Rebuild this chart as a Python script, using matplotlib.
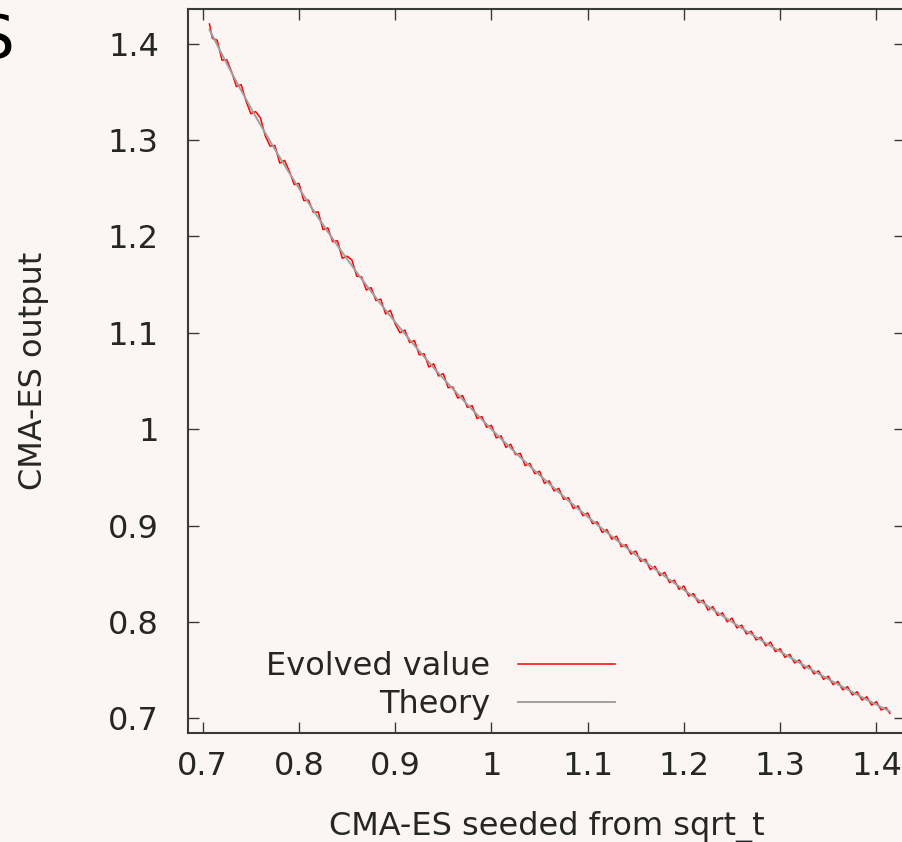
import matplotlib
matplotlib.use("Agg")
import matplotlib.pyplot as plt
from matplotlib.lines import Line2D

#========================= data =======================

# 横轴: CMA-ES seeded from sqrt_t
X_VALUES = [
    0.707, 0.710, 0.715, 0.720, 0.725, 0.730, 0.735, 0.740, 0.745, 0.750,
    0.755, 0.760, 0.765, 0.770, 0.775, 0.780, 0.785, 0.790, 0.795, 0.800,
    0.805, 0.810, 0.815, 0.820, 0.825, 0.830, 0.835, 0.840, 0.845, 0.850,
    0.855, 0.860, 0.865, 0.870, 0.875, 0.880, 0.885, 0.890, 0.895, 0.900,
    0.905, 0.910, 0.915, 0.920, 0.925, 0.930, 0.935, 0.940, 0.945, 0.950,
    0.955, 0.960, 0.965, 0.970, 0.975, 0.980, 0.985, 0.990, 0.995, 1.000,
    1.005, 1.010, 1.015, 1.020, 1.025, 1.030, 1.035, 1.040, 1.045, 1.050,
    1.055, 1.060, 1.065, 1.070, 1.075, 1.080, 1.085, 1.090, 1.095, 1.100,
    1.105, 1.110, 1.115, 1.120, 1.125, 1.130, 1.135, 1.140, 1.145, 1.150,
    1.155, 1.160, 1.165, 1.170, 1.175, 1.180, 1.185, 1.190, 1.195, 1.200,
    1.205, 1.210, 1.215, 1.220, 1.225, 1.230, 1.235, 1.240, 1.245, 1.250,
    1.255, 1.260, 1.265, 1.270, 1.275, 1.280, 1.285, 1.290, 1.295, 1.300,
    1.305, 1.310, 1.315, 1.320, 1.325, 1.330, 1.335, 1.340, 1.345, 1.350,
    1.355, 1.360, 1.365, 1.370, 1.375, 1.380, 1.385, 1.390, 1.395, 1.400,
    1.405, 1.410, 1.414,
]

# 演化结果 (带噪声)
EVOLVED_VALUES = [
    1.4204, 1.4055, 1.4036, 1.3829, 1.3833, 1.3709, 1.3555, 1.3574, 1.3403, 1.3273,
    1.3295, 1.3228, 1.3042, 1.2937, 1.2943, 1.2761, 1.2789, 1.2678, 1.2539, 1.2550,
    1.2372, 1.2376, 1.2250, 1.2255, 1.2071, 1.2088, 1.1946, 1.1955, 1.1774, 1.1795,
    1.1756, 1.1588, 1.1581, 1.1444, 1.1469, 1.1334, 1.1349, 1.1196, 1.1233, 1.1091,
    1.1000, 1.1029, 1.0899, 1.0920, 1.0771, 1.0783, 1.0645, 1.0678, 1.0552, 1.0576,
    1.0431, 1.0437, 1.0323, 1.0349, 1.0226, 1.0244, 1.0112, 1.0131, 1.0020, 1.0040,
    0.9910, 0.9931, 0.9812, 0.9844, 0.9736, 0.9749, 0.9622, 0.9645, 0.9539, 0.9564,
    0.9439, 0.9464, 0.9360, 0.9386, 0.9272, 0.9289, 0.9177, 0.9204, 0.9102, 0.9131,
    0.9020, 0.9039, 0.8929, 0.8959, 0.8859, 0.8890, 0.8781, 0.8802, 0.8704, 0.8736,
    0.8628, 0.8651, 0.8544, 0.8577, 0.8481, 0.8515, 0.8409, 0.8433, 0.8338, 0.8373,
    0.8269, 0.8294, 0.8200, 0.8227, 0.8123, 0.8160, 0.8067, 0.8095, 0.8002, 0.8040,
    0.7938, 0.7967, 0.7875, 0.7904, 0.7813, 0.7843, 0.7752, 0.7792, 0.7692, 0.7722,
    0.7633, 0.7664, 0.7575, 0.7606, 0.7517, 0.7549, 0.7461, 0.7493, 0.7405, 0.7437,
    0.7350, 0.7383, 0.7296, 0.7329, 0.7243, 0.7276, 0.7190, 0.7224, 0.7138, 0.7173,
    0.7087, 0.7112, 0.7052,
]

# 理论曲线
THEORY_VALUES = [
    1.4144, 1.4085, 1.3986, 1.3889, 1.3793, 1.3699, 1.3605, 1.3514, 1.3423, 1.3333,
    1.3245, 1.3158, 1.3072, 1.2987, 1.2903, 1.2821, 1.2739, 1.2658, 1.2579, 1.2500,
    1.2422, 1.2346, 1.2270, 1.2195, 1.2121, 1.2048, 1.1976, 1.1905, 1.1834, 1.1765,
    1.1696, 1.1628, 1.1561, 1.1494, 1.1429, 1.1364, 1.1299, 1.1236, 1.1173, 1.1111,
    1.1050, 1.0989, 1.0929, 1.0870, 1.0811, 1.0753, 1.0695, 1.0638, 1.0582, 1.0526,
    1.0471, 1.0417, 1.0363, 1.0309, 1.0256, 1.0204, 1.0152, 1.0101, 1.0050, 1.0000,
    0.9950, 0.9901, 0.9852, 0.9804, 0.9756, 0.9709, 0.9662, 0.9615, 0.9569, 0.9524,
    0.9479, 0.9434, 0.9390, 0.9346, 0.9302, 0.9259, 0.9217, 0.9174, 0.9132, 0.9091,
    0.9050, 0.9009, 0.8969, 0.8929, 0.8889, 0.8850, 0.8811, 0.8772, 0.8734, 0.8696,
    0.8658, 0.8621, 0.8584, 0.8547, 0.8511, 0.8475, 0.8439, 0.8403, 0.8368, 0.8333,
    0.8299, 0.8264, 0.8230, 0.8197, 0.8163, 0.8130, 0.8097, 0.8065, 0.8032, 0.8000,
    0.7968, 0.7937, 0.7905, 0.7874, 0.7843, 0.7813, 0.7782, 0.7752, 0.7722, 0.7692,
    0.7663, 0.7634, 0.7605, 0.7576, 0.7547, 0.7519, 0.7491, 0.7463, 0.7435, 0.7407,
    0.7380, 0.7353, 0.7326, 0.7299, 0.7273, 0.7246, 0.7220, 0.7194, 0.7168, 0.7143,
    0.7117, 0.7092, 0.7072,
]

X_TICKS = [0.7, 0.8, 0.9, 1.0, 1.1, 1.2, 1.3, 1.4]
X_TICK_LABELS = ["0.7", "0.8", "0.9", "1", "1.1", "1.2", "1.3", "1.4"]
Y_TICKS = [0.7, 0.8, 0.9, 1.0, 1.1, 1.2, 1.3, 1.4]
Y_TICK_LABELS = ["0.7", "0.8", "0.9", "1", "1.1", "1.2", "1.3", "1.4"]

#========================= style =======================

BG_COLOR = "#fbf6f4"
TEXT_COLOR = "#262626"
AXIS_COLOR = "#3a3a3a"
EVOLVED_COLOR = "#ff0000"
THEORY_COLOR = "#a0a0a0"
FONT_SIZE = 23

plt.rcParams["font.family"] = ["DejaVu Sans"]

fig = plt.figure(figsize=(9.03, 8.42), dpi=100, facecolor=BG_COLOR)
ax = fig.add_axes([0.2082, 0.1298, 0.7943, 0.8599], facecolor=BG_COLOR)

ax.plot(X_VALUES, EVOLVED_VALUES, color=EVOLVED_COLOR, linewidth=1.1)
ax.plot(X_VALUES, THEORY_VALUES, color=THEORY_COLOR, linewidth=1.4)

ax.set_xlim(0.6847, 1.43)
ax.set_ylim(0.6851, 1.4363)
ax.set_xticks(X_TICKS)
ax.set_xticklabels(X_TICK_LABELS)
ax.set_yticks(Y_TICKS)
ax.set_yticklabels(Y_TICK_LABELS)

ax.tick_params(direction="in", length=8, width=1.0, colors=AXIS_COLOR,
               labelcolor=TEXT_COLOR, labelsize=FONT_SIZE, top=True, right=True)
ax.tick_params(axis="x", pad=13)
ax.tick_params(axis="y", pad=21)
for spine in ax.spines.values():
    spine.set_color(AXIS_COLOR)
    spine.set_linewidth(1.5)

ax.set_xlabel("CMA-ES seeded from sqrt_t", fontsize=FONT_SIZE, color=TEXT_COLOR, labelpad=21)
ax.set_ylabel("CMA-ES output", fontsize=FONT_SIZE, color=TEXT_COLOR, labelpad=42)

# legend: 文字在左, 线在右 (gnuplot风格), 每项一个legend以便右对齐
legendKw = dict(loc="center right", markerfirst=False, frameon=False, fontsize=FONT_SIZE,
                handlelength=3.04, handletextpad=0.88, borderpad=0, borderaxespad=0,
                labelcolor=TEXT_COLOR)
leg1 = ax.legend(handles=[Line2D([], [], color=EVOLVED_COLOR, linewidth=1.1)],
                 labels=["Evolved value"], bbox_to_anchor=(0.5955, 0.0912), **legendKw)
ax.add_artist(leg1)
ax.legend(handles=[Line2D([], [], color=THEORY_COLOR, linewidth=1.4)],
          labels=["Theory"], bbox_to_anchor=(0.5955, 0.0383), **legendKw)

# 左上角被裁切的大字
fig.text(15 / 903, 1 - 58 / 842, "S", fontsize=44, color="black", ha="right", va="baseline")

fig.savefig("out.png", dpi=100, facecolor=BG_COLOR)
